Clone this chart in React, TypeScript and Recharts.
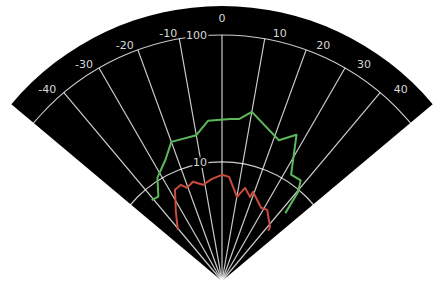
import React from 'react';
import { RadarChart, PolarGrid, PolarAngleAxis, PolarRadiusAxis, Radar, Sector } from 'recharts';

const ANGLE_TICKS = [-40, -30, -20, -10, 0, 10, 20, 30, 40];
const RADIUS_TICKS = [10, 100];
const GREEN_ANGLES = [-41, -37, -32, -25, -20, -10, -5, 3, 6, 10, 22, 27, 33, 38, 40.5, 43];
const GREEN_VALUES = [8.05, 7.84, 10.5, 13.05, 16.9, 16.9, 21.3, 21.9, 22.1, 26.0, 18.1, 22.6, 11.5, 11.7, 9.65, 6.2];
const RED_ANGLES = [-40.8, -33.7, -27.3, -23.1, -20.6, -16.3, -11.2, -5.6, 0, 3.9, 10.1, 13.9, 18.4, 19.2, 28.1, 32.4, 41.6, 42.6];
const RED_VALUES = [3.92, 5.2, 7.4, 7.68, 7.01, 7.52, 6.82, 7.41, 7.9, 7.65, 5.43, 6.56, 5.75, 6.38, 5.19, 5.31, 4.28, 3.97];

const W = 440;
const H = 287;
const CX = 222;
const CY = 281;
const R_GRID = 246;
const R_BG = 275;
const START = 140;
const END = 40;
const FONT = 'DejaVu Sans, sans-serif';

const table = [
  ...GREEN_ANGLES.map((a, i) => ({ angle: a, green: GREEN_VALUES[i] as number | null, red: null as number | null })),
  ...RED_ANGLES.map((a, i) => ({ angle: a, green: null as number | null, red: RED_VALUES[i] as number | null })),
].sort((p, q) => p.angle - q.angle);

const OpenLine = (props: any) => {
  const pts = (props.points || []).filter(
    (p: any) => p.value !== null && p.value !== undefined && Number.isFinite(p.x) && Number.isFinite(p.y)
  );
  const d = pts.map((p: any, i: number) => `${i ? 'L' : 'M'}${p.x},${p.y}`).join('');
  return <path d={d} fill="none" stroke={props.stroke} strokeWidth={props.strokeWidth} strokeLinejoin="round" />;
};

const AngleTick = (props: any) => {
  const { x, y, payload } = props;
  const v = payload.value as number;
  let anchor: 'start' | 'end' | 'middle' = 'middle';
  let dx = 0;
  let dy = 10;
  if (v > 0) { anchor = 'start'; dx = 6; }
  else if (v < 0) { anchor = 'end'; dx = 0; }
  else { dy = -1; }
  return (
    <text x={x + dx} y={y + dy} textAnchor={anchor} fill="#d8d8d8" fontSize={11} fontFamily={FONT}>
      {v}
    </text>
  );
};

const RadiusTick = (props: any) => {
  const { x, y, payload } = props;
  return (
    <text x={x - 15} y={y + 4} textAnchor="end" fill="#d8d8d8" fontSize={11} fontFamily={FONT}
      stroke="#000" strokeWidth={4} paintOrder="stroke">
      {payload.value}
    </text>
  );
};

export default function App() {
  return (
    <div style={{ position: 'absolute', left: 0, top: 0, width: W, height: H, background: '#fff' }}>
      <svg width={W} height={H} style={{ position: 'absolute', left: 0, top: 0 }}>
        <Sector cx={CX} cy={CY} innerRadius={0} outerRadius={R_BG} startAngle={START} endAngle={END} fill="#000" />
      </svg>
      <div style={{ position: 'absolute', left: 0, top: 0 }}>
        <RadarChart width={W} height={H} data={table} cx={CX} cy={CY} outerRadius={R_GRID}
          startAngle={START} endAngle={END} margin={{ top: 0, right: 0, bottom: 0, left: 0 }}>
          <PolarGrid gridType="circle" stroke="#ffffff" strokeOpacity={0.8} strokeWidth={1.2} />
          <PolarAngleAxis dataKey="angle" type="number" domain={[-50, 50]} ticks={ANGLE_TICKS}
            axisLine={false} tickLine={false} tickSize={12} tick={<AngleTick />} />
          <PolarRadiusAxis angle={90} type="number" scale="log" domain={[1.15, 100]} ticks={RADIUS_TICKS}
            allowDataOverflow axisLine={false} tickLine={false} tick={<RadiusTick />} />
          <Radar dataKey="green" stroke="#5cb85c" strokeWidth={2} fill="none" dot={false}
            isAnimationActive={false} shape={<OpenLine />} />
          <Radar dataKey="red" stroke="#cc4b3f" strokeWidth={2} fill="none" dot={false}
            isAnimationActive={false} shape={<OpenLine />} />
        </RadarChart>
      </div>
    </div>
  );
}
